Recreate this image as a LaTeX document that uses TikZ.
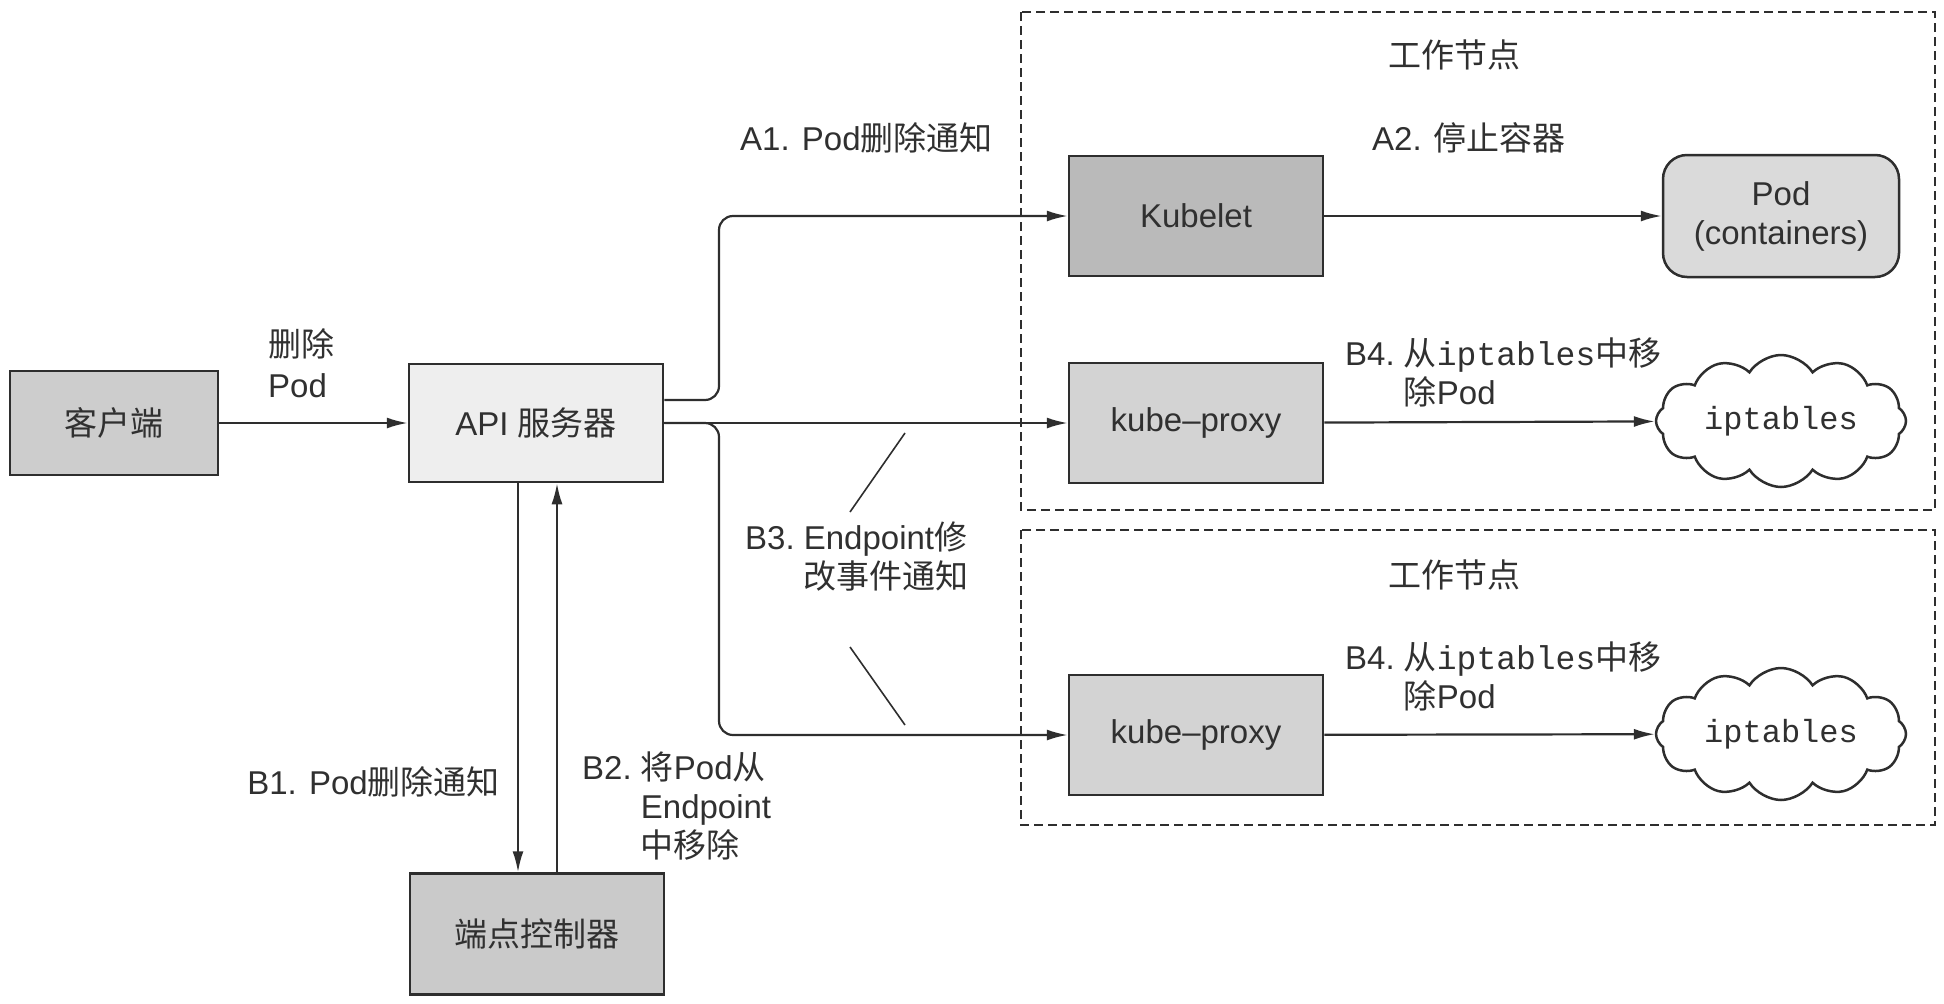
\documentclass[tikz,border=0pt]{standalone}
\usepackage{fontspec}
\setmainfont{Liberation Sans}
\setmonofont{Liberation Mono}
\newfontfamily\cjkfont{Noto Sans CJK SC}
\newcommand\zhtxt[1]{{\cjkfont #1}}
\usetikzlibrary{arrows.meta,shapes.symbols}

\definecolor{linecol}{HTML}{2E2E2E}
\definecolor{txtcol}{HTML}{303030}
\definecolor{fillclient}{HTML}{CDCDCD}
\definecolor{fillapi}{HTML}{EEEEEE}
\definecolor{fillkubelet}{HTML}{BABABA}
\definecolor{fillproxy}{HTML}{D3D3D3}
\definecolor{fillpod}{HTML}{DADADA}
\definecolor{fillctrl}{HTML}{CACACA}

\begin{document}
\begin{tikzpicture}[x=1pt,y=-1pt,
  font=\fontsize{33}{39}\selectfont,
  box/.style={draw=linecol, line width=2.5pt, minimum width=254pt,
    minimum height=120pt, inner sep=0pt, text=txtcol},
  conn/.style={draw=linecol, line width=2.2pt},
  arr/.style={conn, -{Latex[length=21pt,width=11pt]}},
  lbl/.style={text=txtcol, inner sep=0pt},
  nodeframe/.style={draw=linecol, line width=2pt, dash pattern=on 9pt off 5pt},
  puff/.style={cloud, cloud puffs=12, cloud puff arc=115, cloud ignores aspect,
    draw=linecol, line width=2.5pt, fill=white, minimum width=250pt,
    minimum height=132pt, inner sep=0pt, text=txtcol,
    font=\fontsize{32}{38}\selectfont\ttfamily},
  leader/.style={draw=linecol, line width=1.6pt}]

\useasboundingbox (0,0) rectangle (1944,1004);

% worker node frames
\draw[nodeframe] (1021,12) rectangle (1935,510);
\draw[nodeframe] (1021,530) rectangle (1935,825);
\node[lbl] (wn1) at (1454,55) {\zhtxt{工作节点}};
\node[lbl] (wn2) at (1454,575) {\zhtxt{工作节点}};

% control plane side
\node[box, fill=fillclient, minimum width=208pt, minimum height=104pt] (client) at (114,423) {\zhtxt{客户端}};
\node[box, fill=fillapi, minimum height=118pt] (api) at (536,423) {API \zhtxt{服务器}};
\node[box, fill=fillctrl, minimum height=121pt] (ctrl) at (537,934) {\zhtxt{端点控制器}};

% worker node components
\node[box, fill=fillkubelet] (kubelet) at (1196,216) {Kubelet};
\node[box, fill=fillpod, minimum width=236pt, minimum height=122pt,
  rounded corners=24pt, align=center] (pod) at (1781,216) {Pod\\(containers)};
\node[box, fill=fillproxy] (proxy1) at (1196,423) {kube--proxy};
\node[puff] (ipt1) at (1781,421) {iptables};
\node[box, fill=fillproxy] (proxy2) at (1196,735) {kube--proxy};
\node[puff] (ipt2) at (1781,734) {iptables};

% connectors
\coordinate (fork) at (719,423);
\draw[arr] (client) -- (api);
\draw[arr, rounded corners=14pt] ([yshift=23pt]api.east) -| (fork |- kubelet.west) -- (kubelet.west);
\draw[arr] (api.east) -- (proxy1.west);
\draw[arr, rounded corners=14pt] (api.east) -| (fork |- proxy2.west) -- (proxy2.west);
\draw[arr] (kubelet) -- (pod);
\draw[arr] (proxy1) -- (ipt1);
\draw[arr] (proxy2) -- (ipt2);
\draw[arr] ([xshift=-18pt]api.south) -- ([xshift=-19pt]ctrl.north);
\draw[arr] ([xshift=20pt]ctrl.north) -- ([xshift=21pt]api.south);

% leader lines of the B3 label
\coordinate (la1) at (905,433);
\coordinate (la2) at (850,512);
\coordinate (lb1) at (850,647);
\coordinate (lb2) at (905,725);
\draw[leader] (la1) -- (la2);
\draw[leader] (lb1) -- (lb2);

% step labels
\node[lbl, anchor=base west] (lbldel) at (268,356)
  {\begin{tabular}[t]{@{}l@{}}\zhtxt{删除}\\[2pt]Pod\end{tabular}};
\node[lbl, anchor=base west] (lbla1) at (740,150) {A1. Pod\zhtxt{删除通知}};
\node[lbl, anchor=base west] (lbla2) at (1372,150) {A2. \zhtxt{停止容器}};
\node[lbl, anchor=base west] (lblb4a) at (1345,365)
  {\begin{tabular}[t]{@{}l@{\ }l@{}}B4. & \zhtxt{从}\texttt{iptables}\zhtxt{中移}\\ & \zhtxt{除}Pod\end{tabular}};
\node[lbl, anchor=base west] (lblb4b) at (1345,669)
  {\begin{tabular}[t]{@{}l@{\ }l@{}}B4. & \zhtxt{从}\texttt{iptables}\zhtxt{中移}\\ & \zhtxt{除}Pod\end{tabular}};
\node[lbl, anchor=base west] (lblb3) at (745,549)
  {\begin{tabular}[t]{@{}l@{\ }l@{}}B3. & Endpoint\zhtxt{修}\\ & \zhtxt{改事件通知}\end{tabular}};
\node[lbl, anchor=base east] (lblb1) at (500,794) {B1. Pod\zhtxt{删除通知}};
\node[lbl, anchor=base west] (lblb2) at (582,779)
  {\begin{tabular}[t]{@{}l@{\ }l@{}}B2. & \zhtxt{将}Pod\zhtxt{从}\\ & Endpoint\\ & \zhtxt{中移除}\end{tabular}};

\end{tikzpicture}
\end{document}
